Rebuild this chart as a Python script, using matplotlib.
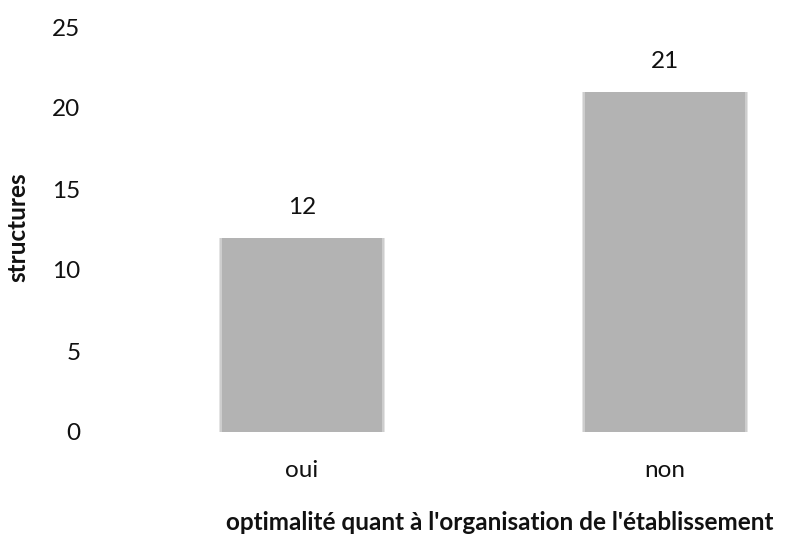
import matplotlib
matplotlib.use('Agg')
import matplotlib.pyplot as plt

categories = ['oui', 'non']
values = [12, 21]
yticks = [0, 5, 10, 15, 20, 25]

plt.rcParams['font.family'] = ['Lato', 'DejaVu Sans']

fig = plt.figure(figsize=(7.9, 5.37), dpi=100)
ax = fig.add_axes([100/790, (537-432)/537, 690/790, (432-27)/537])

x = list(range(len(categories)))
# soft edges: a few slightly wider, fading layers under the main bar
for k, a in [(3, 0.12), (2, 0.25), (1, 0.45)]:
    ax.bar(x, values, width=0.445 + k*0.005, color='#b3b3b3', alpha=a, linewidth=0)
ax.bar(x, values, width=0.44, color='#b3b3b3', linewidth=0)

for xi, v in zip(x, values):
    ax.text(xi, v + 1.85, str(v), ha='center', va='center', fontsize=17.5, color='#111111')

ax.set_xlim(-(302-100)/363, (790-302)/363)
ax.set_ylim(0, 25)
ax.set_yticks(yticks)
ax.set_xticks(x)
ax.set_xticklabels(categories)
ax.tick_params(axis='both', length=0, labelsize=17.5, colors='#111111')
ax.tick_params(axis='y', pad=14)
ax.tick_params(axis='x', pad=20)
for s in ax.spines.values():
    s.set_visible(False)

fig.text(18/790, 1 - 227/537, 'structures', rotation=90, ha='center', va='center',
         fontsize=17.5, fontweight='bold', color='#111111')
fig.text(500/790, 1 - 522/537, "optimalité quant à l'organisation de l'établissement",
         ha='center', va='center', fontsize=17.5, fontweight='bold', color='#111111')

fig.savefig('out.png', dpi=100)
